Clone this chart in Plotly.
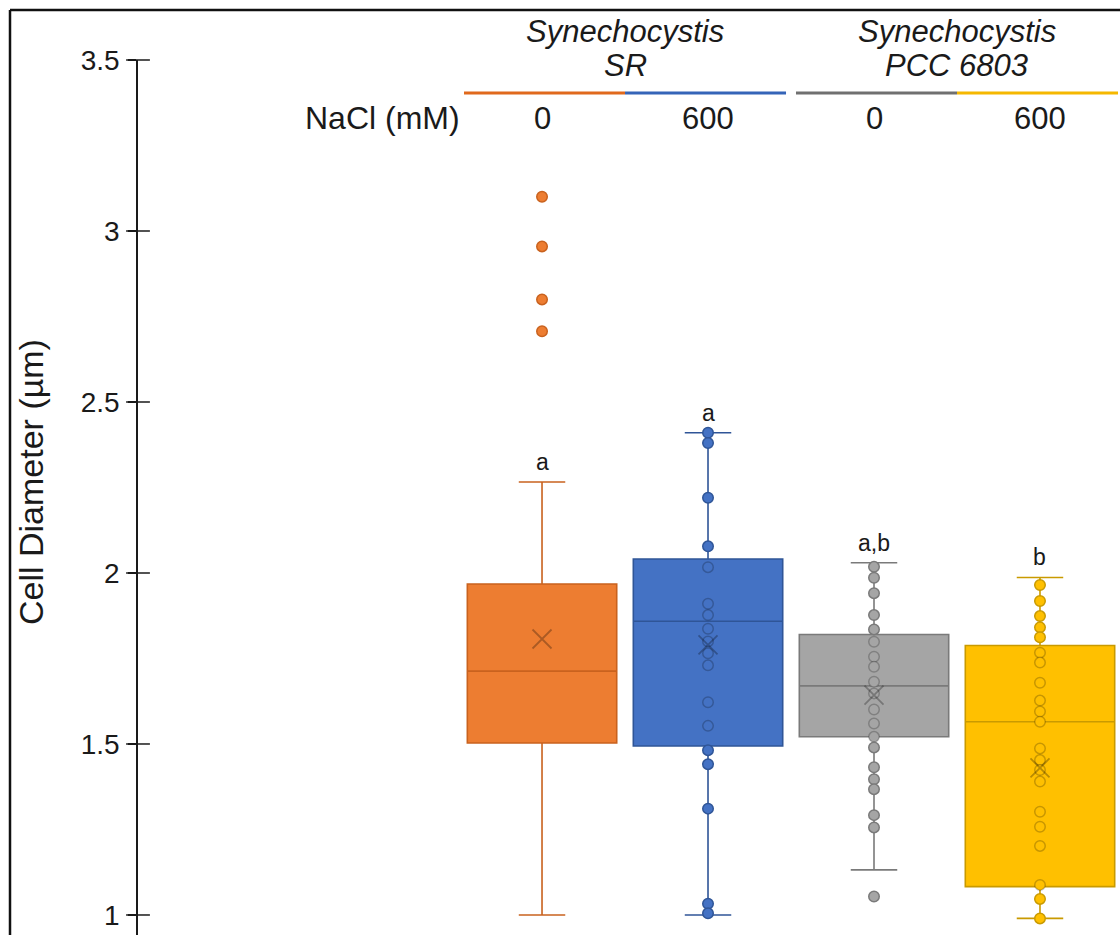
import plotly.graph_objects as go

# ---------------- data ----------------
categories = ["SR 0", "SR 600", "PCC 0", "PCC 600"]
strain_labels = ["Synechocystis", "Synechocystis"]
strain_sub = ["SR", "PCC 6803"]
nacl_labels = ["0", "600", "0", "600"]
letters = ["a", "a", "a,b", "b"]

q1 = [1.503, 1.494, 1.521, 1.083]
median = [1.713, 1.859, 1.670, 1.565]
q3 = [1.968, 2.041, 1.820, 1.788]
lower_whisker = [1.000, 1.000, 1.132, 0.990]
upper_whisker = [2.266, 2.410, 2.030, 1.987]
means = [1.807, 1.790, 1.643, 1.430]

sr0_points = [3.100, 2.955, 2.800, 2.707]
sr600_points = [2.410, 2.380, 2.220, 2.078, 2.017, 1.910, 1.877, 1.837, 1.800,
                1.765, 1.730, 1.622, 1.553, 1.482, 1.441, 1.311, 1.033, 1.005]
pcc0_points = [2.018, 1.986, 1.941, 1.877, 1.835, 1.799, 1.755, 1.726, 1.682,
               1.648, 1.601, 1.560, 1.521, 1.490, 1.432, 1.397, 1.368, 1.292,
               1.256, 1.054]
pcc600_points = [1.965, 1.918, 1.874, 1.841, 1.812, 1.767, 1.738, 1.679, 1.627,
                 1.595, 1.565, 1.487, 1.453, 1.424, 1.390, 1.302, 1.258, 1.202,
                 1.088, 1.047, 0.990]
all_points = [sr0_points, sr600_points, pcc0_points, pcc600_points]

y_ticks = [1, 1.5, 2, 2.5, 3, 3.5]
y_tick_text = ["1", "1.5", "2", "2.5", "3", "3.5"]

# ---------------- style ----------------
fills = ["#ED7D31", "#4472C4", "#A5A5A5", "#FFC000"]
lines = ["#C9621E", "#2F5597", "#7A7A7A", "#C99A00"]
header_cols = ["#E0691C", "#3564B8", "#707070", "#F5B800"]
FONT = "Liberation Sans, Arial, sans-serif"
TXT = "#1a1a1a"
W, H = 1120, 935
X_RANGE = [-2.434, 3.482]
Y_RANGE = [0.9415, 3.5]
AX_LEFT = 138
PLOT_TOP = 60

positions = list(range(len(categories)))

def py(ry):
    return (H - ry) / H

def rxp(rx):
    return rx / W

def paper_x(xv):
    d0 = AX_LEFT / W
    return d0 + (xv - X_RANGE[0]) / (X_RANGE[1] - X_RANGE[0]) * (1 - d0)

fig = go.Figure()

for i, pos in enumerate(positions):
    fig.add_trace(go.Box(
        x=[pos], q1=[q1[i]], median=[median[i]], q3=[q3[i]],
        lowerfence=[lower_whisker[i]], upperfence=[upper_whisker[i]],
        width=0.9, fillcolor=fills[i], line=dict(color=lines[i], width=1.6),
        boxpoints=False, whiskerwidth=0, hoverinfo="skip", name=categories[i]))
    cw = 0.14
    fig.add_trace(go.Scatter(
        x=[pos - cw, pos + cw, None, pos - cw, pos + cw],
        y=[upper_whisker[i], upper_whisker[i], None, lower_whisker[i], lower_whisker[i]],
        mode="lines", line=dict(color=lines[i], width=1.6), hoverinfo="skip"))
    pts = all_points[i]
    line_cols = [lines[i] if (v > q3[i] or v < q1[i]) else "rgba(0,0,0,0.22)" for v in pts]
    fig.add_trace(go.Scatter(
        x=[pos] * len(pts), y=pts, mode="markers",
        marker=dict(symbol="circle", size=10.5, color=fills[i],
                    line=dict(color=line_cols, width=1.5)),
        hoverinfo="skip", cliponaxis=False))
    xcol = "rgba(0,0,0,0.28)"
    fig.add_trace(go.Scatter(
        x=[pos], y=[means[i]], mode="markers",
        marker=dict(symbol="x-thin-open", size=19, color=xcol,
                    line=dict(color=xcol, width=1.8)),
        hoverinfo="skip"))
    fig.add_annotation(x=pos, y=upper_whisker[i], xref="x", yref="y",
                       text=letters[i], showarrow=False, yanchor="bottom",
                       xanchor="center", yshift=5,
                       font=dict(family=FONT, size=23, color=TXT))

# inner half of the crossing y-axis ticks
fig.add_trace(go.Scatter(
    x=[X_RANGE[0]] * len(y_ticks), y=y_ticks, mode="markers",
    marker=dict(symbol="line-ew", size=17, color=TXT,
                line=dict(color=TXT, width=1.5)),
    cliponaxis=False, hoverinfo="skip"))

def txt(x, y, s, size, **kw):
    fig.add_annotation(x=x, y=y, xref="paper", yref="paper", text=s,
                       showarrow=False, xanchor=kw.pop("xanchor", "center"),
                       yanchor="middle", font=dict(family=FONT, size=size, color=TXT), **kw)

for g in range(2):
    xc = paper_x(positions[2 * g] + 0.5)
    txt(xc, py(31), "<i>" + strain_labels[g] + "</i>", 31)
    txt(xc, py(66), "<i>" + strain_sub[g] + "</i>", 31)

for i, pos in enumerate(positions):
    first = (i % 2 == 0)
    x0 = pos - (0.47 if first else 0.5)
    x1 = pos + (0.5 if first else 0.47)
    fig.add_shape(type="line", xref="paper", yref="paper",
                  x0=paper_x(x0), x1=paper_x(x1), y0=py(93), y1=py(93),
                  line=dict(color=header_cols[i], width=3))
    txt(paper_x(pos), py(118), nacl_labels[i], 31)
txt(paper_x(positions[0] - 0.47), py(118), "NaCl (mM)", 32, xanchor="right", xshift=-2)

txt(rxp(31), py(482), "Cell Diameter (µm)", 34, textangle=-90)

# outer frame
fig.add_shape(type="line", xref="paper", yref="paper", x0=rxp(10), x1=rxp(10),
              y0=-0.01, y1=py(10), line=dict(color="#111111", width=2.5))
fig.add_shape(type="line", xref="paper", yref="paper", x0=rxp(10), x1=1.01,
              y0=py(10), y1=py(10), line=dict(color="#111111", width=2.5))

fig.update_layout(
    width=W, height=H, autosize=False,
    margin=dict(l=0, r=0, t=0, b=0, pad=0, autoexpand=False),
    paper_bgcolor="white", plot_bgcolor="white", showlegend=False,
    xaxis=dict(domain=[AX_LEFT / W, 1], range=X_RANGE, visible=False,
               automargin=False),
    yaxis=dict(domain=[0, (H - PLOT_TOP) / H], range=Y_RANGE, tickvals=y_ticks,
               ticktext=y_tick_text, showgrid=False, zeroline=False,
               showline=True, linecolor=TXT, linewidth=1.5, automargin=False,
               ticks="outside", ticklen=8, tickcolor=TXT, tickwidth=1.5,
               ticklabelstandoff=3,
               tickfont=dict(family=FONT, size=28, color=TXT)),
)

post = """
document.body.style.margin='0';
document.body.style.padding='0';
document.documentElement.style.overflow='hidden';
"""

fig.write_html("out.html", config={"responsive": False, "displayModeBar": False},
               post_script=post)
